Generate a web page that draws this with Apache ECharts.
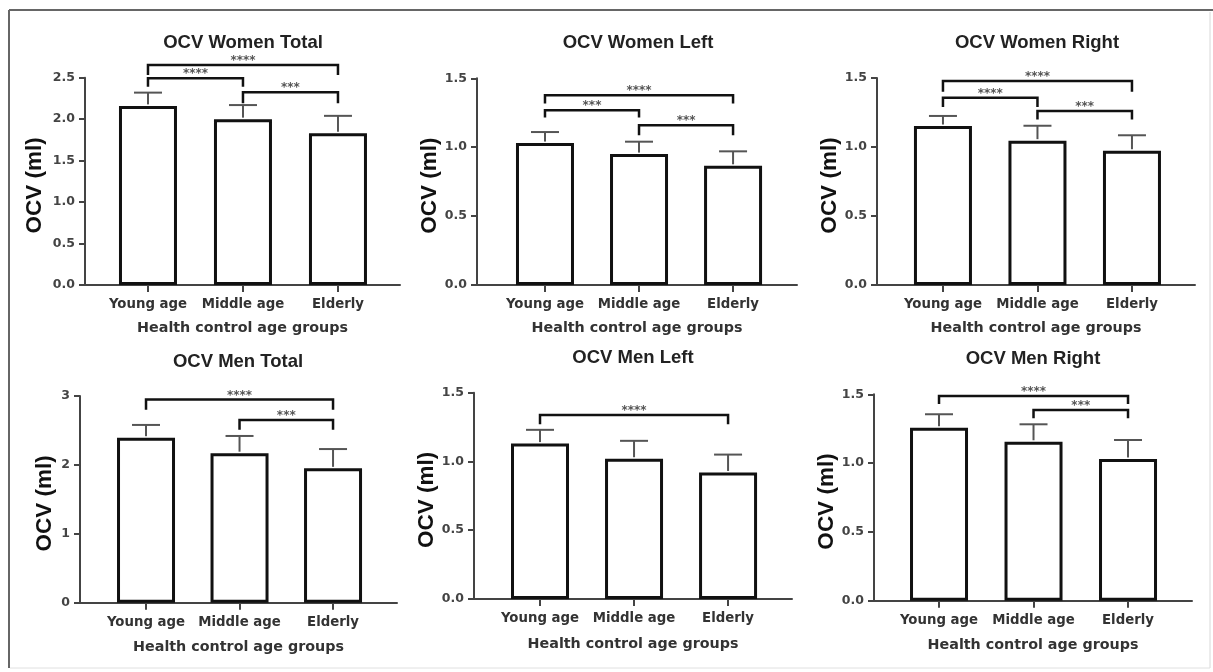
<!DOCTYPE html>
<html>
<head>
<meta charset="utf-8">
<script src="https://cdn.jsdelivr.net/npm/echarts@6/dist/echarts.min.js"></script>
<style>
html,body{margin:0;padding:0;background:#fff;}
#chart{width:1213px;height:672px;}
</style>
</head>
<body>
<div id="chart"></div>
<script>
// ---------- DATA ----------
const categories = ['Young age', 'Middle age', 'Elderly'];
const panelTitles = ['OCV Women Total', 'OCV Women Left', 'OCV Women Right',
                     'OCV Men Total', 'OCV Men Left', 'OCV Men Right'];
const yAxisName = 'OCV (ml)';
const xAxisName = 'Health control age groups';

const womenTotalMean = [2.16, 2.00, 1.83];
const womenTotalErr  = [0.16, 0.17, 0.21];
const womenLeftMean  = [1.03, 0.95, 0.865];
const womenLeftErr   = [0.08, 0.09, 0.105];
const womenRightMean = [1.152, 1.046, 0.973];
const womenRightErr  = [0.073, 0.108, 0.112];
const menTotalMean   = [2.395, 2.17, 1.95];
const menTotalErr    = [0.185, 0.25, 0.28];
const menLeftMean    = [1.13, 1.02, 0.92];
const menLeftErr     = [0.10, 0.13, 0.13];
const menRightMean   = [1.257, 1.155, 1.03];
const menRightErr    = [0.098, 0.127, 0.138];

// significance brackets: [fromCategory, toCategory, bracketLevel, endLevel, stars]
const womenTotalSig = [[0, 2, 2.654, 2.533, '****'], [0, 1, 2.493, 2.392, '****'], [1, 2, 2.325, 2.192, '***']];
const womenLeftSig  = [[0, 2, 1.377, 1.317, '****'], [0, 1, 1.268, 1.215, '***'], [1, 2, 1.16, 1.087, '***']];
const womenRightSig = [[0, 2, 1.478, 1.40, '****'], [0, 1, 1.357, 1.29, '****'], [1, 2, 1.26, 1.20, '***']];
const menTotalSig   = [[0, 2, 2.95, 2.80, '****'], [1, 2, 2.65, 2.51, '***']];
const menLeftSig    = [[0, 2, 1.337, 1.27, '****']];
const menRightSig   = [[0, 2, 1.488, 1.43, '****'], [1, 2, 1.386, 1.326, '***']];

// y-axis scales (max, interval, decimals)
const yMax      = [2.5, 1.5, 1.5, 3, 1.5, 1.5];
const yInterval = [0.5, 0.5, 0.5, 1, 0.5, 0.5];
const yDecimals = [1, 1, 1, 0, 1, 1];

const means = [womenTotalMean, womenLeftMean, womenRightMean, menTotalMean, menLeftMean, menRightMean];
const errs  = [womenTotalErr, womenLeftErr, womenRightErr, menTotalErr, menLeftErr, menRightErr];
const sigs  = [womenTotalSig, womenLeftSig, womenRightSig, menTotalSig, menLeftSig, menRightSig];

// ---------- LAYOUT (positions / styles) ----------
const grids = [
  {left: 85,  top: 77.7,  width: 315, height: 207.3},
  {left: 477, top: 78.3,  width: 320, height: 206.7},
  {left: 877, top: 78,    width: 318, height: 207},
  {left: 80,  top: 396,   width: 317, height: 206.7},
  {left: 474, top: 392.7, width: 318, height: 206.3},
  {left: 874, top: 394.3, width: 318, height: 206.4}
];
const xRange = [[-0.663, 2.653], [-0.723, 2.68], [-0.698, 2.667], [-0.706, 2.684], [-0.702, 2.68], [-0.688, 2.677]];
const titlePos = [[243, 43], [638, 43], [1037, 43], [238, 362], [633, 358], [1033, 359]];
const yNameGap = [39, 33, 36, 24, 36, 36];
const xNameGap = [36, 36, 36, 38, 38, 38];

const AX = '#444';
const LABEL_FONT = '"DejaVu Sans", sans-serif';
const TITLE_FONT = '"Liberation Sans", Arial, sans-serif';

const option = {
  animation: false,
  backgroundColor: '#fff',
  title: panelTitles.map((t, i) => ({
    text: t,
    left: titlePos[i][0],
    top: titlePos[i][1] - 10,
    textAlign: 'center',
    padding: 0,
    textStyle: {fontFamily: TITLE_FONT, fontWeight: 'bold', fontSize: 18.5, color: '#222'}
  })),
  grid: grids.map(g => Object.assign({containLabel: false}, g)),
  xAxis: grids.map((g, i) => ({
    type: 'value',
    gridIndex: i,
    min: xRange[i][0],
    max: xRange[i][1],
    name: xAxisName,
    nameLocation: 'middle',
    nameGap: xNameGap[i],
    nameTextStyle: {fontFamily: LABEL_FONT, fontWeight: 'bold', fontSize: 14.3, color: '#333'},
    splitLine: {show: false},
    axisLine: {show: true, onZero: false, lineStyle: {color: AX, width: 2}},
    axisTick: {show: true, customValues: [0, 1, 2], length: 7, lineStyle: {color: AX, width: 2}},
    axisLabel: {
      customValues: [0, 1, 2],
      margin: 13,
      fontFamily: LABEL_FONT, fontWeight: 'bold', fontSize: 13.3, color: '#333',
      formatter: v => categories[Math.round(v)]
    }
  })),
  yAxis: grids.map((g, i) => ({
    type: 'value',
    gridIndex: i,
    min: 0,
    max: yMax[i],
    interval: yInterval[i],
    name: yAxisName,
    nameLocation: 'middle',
    nameGap: yNameGap[i],
    nameTextStyle: {fontFamily: TITLE_FONT, fontWeight: 'bold', fontSize: 22.5, color: '#111',
                    padding: [0, 8, 0, 0]},
    splitLine: {show: false},
    axisLine: {show: true, onZero: false, lineStyle: {color: AX, width: 2}},
    axisTick: {show: true, length: 6, lineStyle: {color: AX, width: 2}},
    axisLabel: {
      margin: 10,
      fontFamily: LABEL_FONT, fontWeight: 'bold', fontSize: 12.5, color: '#444',
      formatter: v => v.toFixed(yDecimals[i])
    }
  })),
  series: [],
  graphic: [
    {type: 'line', shape: {x1: 9, y1: 10, x2: 1213, y2: 10}, style: {stroke: '#666', lineWidth: 2}},
    {type: 'line', shape: {x1: 9, y1: 10, x2: 9, y2: 668}, style: {stroke: '#666', lineWidth: 2}},
    {type: 'line', shape: {x1: 1210, y1: 12, x2: 1210, y2: 668}, style: {stroke: '#d8d8d8', lineWidth: 1}},
    {type: 'line', shape: {x1: 10, y1: 668, x2: 1210, y2: 668}, style: {stroke: '#e0e0e0', lineWidth: 1}}
  ]
};

for (let i = 0; i < 6; i++) {
  option.series.push({
    type: 'bar',
    xAxisIndex: i, yAxisIndex: i,
    barWidth: 58,
    data: means[i].map((v, k) => [k, v]),
    itemStyle: {color: '#fff', borderColor: '#111', borderWidth: 3},
    z: 2
  });
  option.series.push({
    type: 'custom',
    xAxisIndex: i, yAxisIndex: i,
    z: 3,
    data: means[i].map((v, k) => [k, v, errs[i][k]]),
    renderItem: (params, api) => {
      const x = api.value(0), m = api.value(1), e = api.value(2);
      const p0 = api.coord([x, m]);
      const p1 = api.coord([x, m + e]);
      const st = {stroke: '#555', lineWidth: 2};
      return {type: 'group', children: [
        {type: 'line', shape: {x1: p0[0], y1: p0[1] - 1.5, x2: p1[0], y2: p1[1]}, style: st},
        {type: 'line', shape: {x1: p1[0] - 14, y1: p1[1], x2: p1[0] + 14, y2: p1[1]}, style: st}
      ]};
    }
  });
  option.series.push({
    type: 'custom',
    xAxisIndex: i, yAxisIndex: i,
    z: 4,
    clip: false,
    data: sigs[i],
    renderItem: (params, api) => {
      const a = api.value(0), b = api.value(1), lv = api.value(2), en = api.value(3);
      const stars = sigs[i][params.dataIndex][4];
      const pa = api.coord([a, lv]), pb = api.coord([b, lv]);
      const ea = api.coord([a, en]), eb = api.coord([b, en]);
      return {type: 'group', children: [
        {type: 'polyline', shape: {points: [[ea[0], ea[1]], [pa[0], pa[1]], [pb[0], pb[1]], [eb[0], eb[1]]]},
         style: {stroke: '#111', lineWidth: 2.5, fill: null}},
        {type: 'text', x: (pa[0] + pb[0]) / 2, y: pa[1] - 4,
         style: {text: stars, fontFamily: LABEL_FONT, fontWeight: 'bold', fontSize: 12,
                 fill: '#555', align: 'center', verticalAlign: 'middle'}}
      ]};
    }
  });
}

const chart = echarts.init(document.getElementById('chart'), null, {renderer: 'canvas'});
chart.setOption(option);
</script>
</body>
</html>
